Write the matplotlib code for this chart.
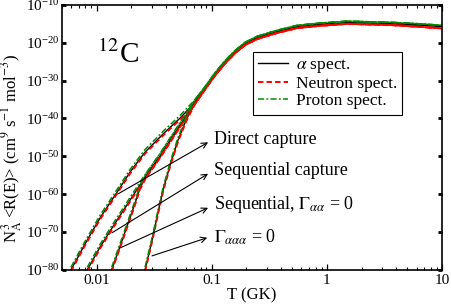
import numpy as np
import matplotlib.pyplot as plt
from matplotlib.ticker import NullLocator, NullFormatter

plt.rcParams['font.family'] = ['Liberation Serif', 'DejaVu Serif']
plt.rcParams['mathtext.fontset'] = 'stix'

# temperature in GK, rate as log10 (alpha spectrum)
t_direct = [0.00599, 0.00792, 0.0107, 0.01445, 0.0195, 0.02635, 0.0378, 0.0531, 0.0717]
r_direct = [-80.0, -73.2, -66.3, -60.3, -54.2, -48.9, -44.1, -39.9, -35.7]

t_seq = [0.0083, 0.0107, 0.01445, 0.0195, 0.0253, 0.0356, 0.048, 0.0587, 0.0717]
r_seq = [-80.0, -74.0, -67.7, -61.6, -56.3, -50.0, -43.9, -39.9, -35.7]

t_seq_gaa = [0.01352, 0.01597, 0.01875, 0.02157, 0.0238, 0.0269, 0.0356, 0.048, 0.0587, 0.0717]
r_seq_gaa = [-80.0, -73.8, -67.7, -62.4, -58.4, -55.2, -49.9, -43.8, -39.8, -35.7]

t_gaaa = [0.02635, 0.0303, 0.0342, 0.0378, 0.0435, 0.051, 0.0599, 0.0717]
r_gaaa = [-80.0, -72.2, -64.8, -58.9, -52.3, -45.7, -40.4, -35.7]

# all curves merge above ~0.08 GK
t_common = [0.0876, 0.107, 0.131, 0.160, 0.195, 0.248, 0.370, 0.553, 0.876, 1.50, 3.56, 6.49, 10.0]
r_common_alpha = [-32.0, -28.3, -25.1, -22.4, -20.3, -18.7, -17.1, -15.8, -15.2, -14.8, -15.0, -15.3, -15.6]
r_common_neutron = [-32.3, -28.6, -25.4, -22.7, -20.6, -19.0, -17.4, -16.1, -15.5, -15.0, -15.3, -15.8, -16.2]
r_common_proton = [-31.6, -27.9, -24.7, -22.0, -19.9, -18.3, -16.7, -15.4, -14.8, -14.3, -14.6, -15.0, -15.4]

# small offset of the low-T branches for the other spectra (decades)
low_shift = {'alpha': 0.0, 'neutron': -0.4, 'proton': 0.7}

spectra = [
    ('alpha', r'$\alpha$ spect.', 'black', '-', 1.0, r_common_alpha),
    ('neutron', 'Neutron spect.', '#ff0000', (0, (2.8, 1.6)), 1.4, r_common_neutron),
    ('proton', 'Proton spect.', '#008c00', (0, (4, 1.5, 1.2, 1.5)), 1.1, r_common_proton),
]
branches = [(t_direct, r_direct), (t_seq, r_seq), (t_seq_gaa, r_seq_gaa), (t_gaaa, r_gaaa)]

fig = plt.figure(figsize=(4.52, 3.06), dpi=100)
ax = fig.add_axes([0.137, 0.118, 0.841, 0.866])

for key, label, color, ls, lw, r_common in spectra:
    for i, (tb, rb) in enumerate(branches):
        t = np.concatenate([tb, t_common])
        r = np.concatenate([np.array(rb) + low_shift[key], r_common])
        ax.plot(t, 10.0 ** r, color=color, ls=ls, lw=lw,
                label=label if i == 0 else None)

ax.set_xscale('log')
ax.set_yscale('log')
ax.set_xlim(0.005, 10)
ax.set_ylim(1e-80, 1e-10)

ax.set_xticks([0.01, 0.1, 1, 10])
ax.set_xticklabels(['0.01', '0.1', '1', '10'])
ax.xaxis.set_minor_formatter(NullFormatter())
ax.set_yticks([10.0 ** e for e in range(-80, -9, 10)])
ax.yaxis.set_minor_locator(NullLocator())

ax.tick_params(axis='both', which='both', direction='in', top=True, right=True, labelsize=11)
ax.tick_params(axis='x', which='major', length=4.5, width=0.9, pad=3)
ax.tick_params(axis='x', which='minor', length=2.5, width=0.8)
ax.tick_params(axis='y', which='major', length=3, width=2, pad=2)
for s in ax.spines.values():
    s.set_linewidth(1.2)

ax.set_xlabel('T (GK)', fontsize=12, labelpad=0)
ax.set_ylabel(r'N$_{\rm A}^{\,3}$ <R(E)> (cm$^{9}$ s$^{-1}$ mol$^{-3}$)', fontsize=12)
ax.yaxis.set_label_coords(-0.1, 0.46)

ax.text(0.092, 0.78, r'$^{12}$C', transform=ax.transAxes, fontsize=21, va='baseline')

labels = ['Direct capture', 'Sequential capture', r'Sequential, $\Gamma_{\alpha\alpha}$ = 0', r'$\Gamma_{\alpha\alpha\alpha}$ = 0']
text_y = [10.0 ** -45.6, 10.0 ** -53.8, 10.0 ** -62.6, 10.0 ** -71.3]
tails = [(0.0154, 10.0 ** -59.9), (0.0136, 10.0 ** -70.2), (0.016, 10.0 ** -74.2), (0.0303, 10.0 ** -76.3)]
heads = [(0.093, 10.0 ** -46.3), (0.093, 10.0 ** -54.6), (0.093, 10.0 ** -63.6), (0.0914, 10.0 ** -71.5)]
for lab, ty, tail, head in zip(labels, text_y, tails, heads):
    ax.text(0.105, ty, lab, fontsize=13, va='center', ha='left')
    ax.annotate('', xy=head, xytext=tail,
                arrowprops=dict(arrowstyle='->', color='black', lw=0.8, shrinkA=0, shrinkB=0))

leg = ax.legend(loc='upper left', bbox_to_anchor=(0.503, 0.822), fontsize=12.5,
                frameon=True, fancybox=False, framealpha=1, edgecolor='black',
                handlelength=1.7, handletextpad=0.45, labelspacing=0.05,
                borderpad=0.3, borderaxespad=0)
leg.get_frame().set_linewidth(0.8)

fig.savefig('out.png', dpi=100)
